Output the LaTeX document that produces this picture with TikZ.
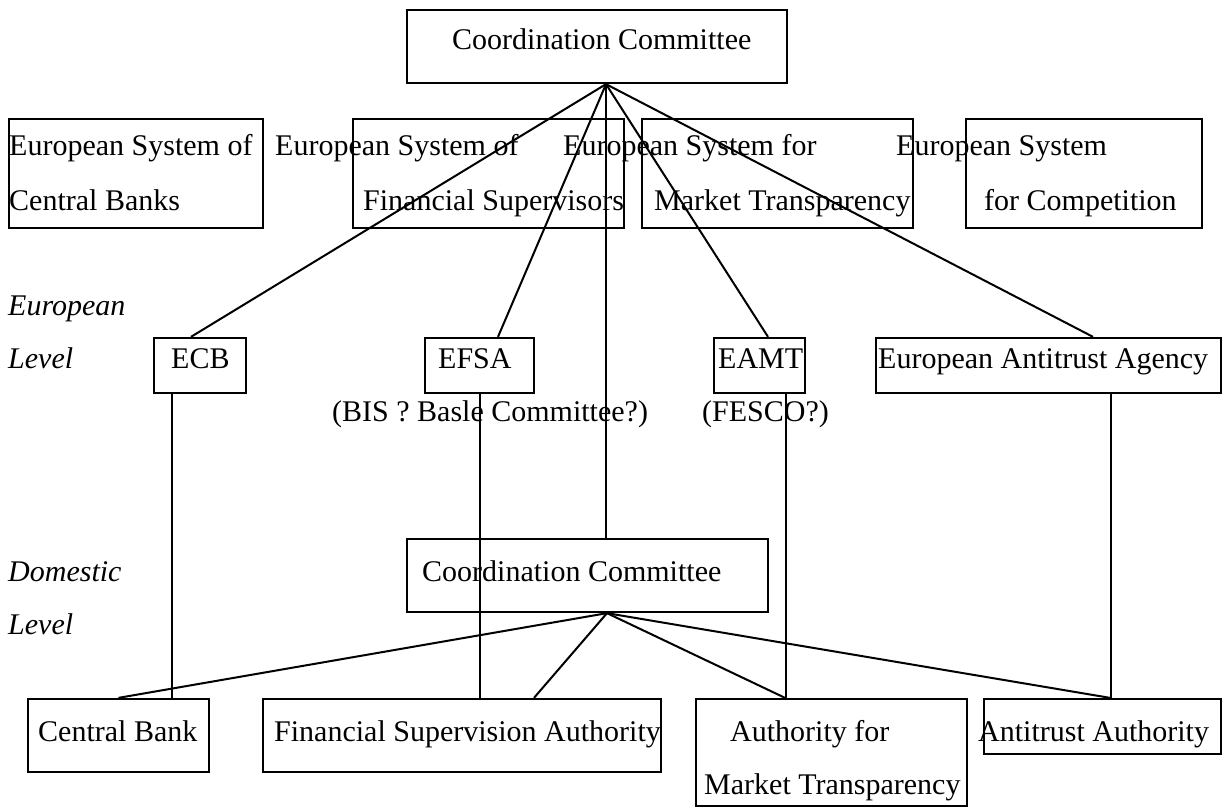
\documentclass[tikz,border=0pt]{standalone}
\usepackage{fontspec}
\setmainfont{Liberation Serif}

\begin{document}
\begin{tikzpicture}[x=1pt, y=-1pt, font=\fontsize{30}{36}\selectfont,
  box/.style args={#1x#2}{draw, line width=2.3pt, inner sep=0pt,
    minimum width=#1pt, minimum height=#2pt},
  txt/.style={anchor=base west, inner sep=0pt},
  lvl/.style={txt, font=\fontsize{30}{36}\selectfont\itshape},
  link/.style={line width=2pt},
]

\useasboundingbox (0,0) rectangle (1225,808);

% top committee
\node[box=380x73] (cctop) at (597,46.5) {};
\node[txt] (cctoptxt) at (452,50) {Coordination Committee};

% european systems
\node[box=254x109] (escb) at (136,173.5) {};
\node[box=271x109] (esfs) at (488.5,173.5) {};
\node[box=271x109] (esmt) at (777.5,173.5) {};
\node[box=236x109] (esc) at (1084,173.5) {};
\node[txt] (escba) at (9,155) {European System of};
\node[txt] (escbb) at (9,210) {Central Banks};
\node[txt] (esfsa) at (275,155) {European System of};
\node[txt] (esfsb) at (363,210) {Financial Supervisors};
\node[txt] (esmta) at (563,155) {European System for};
\node[txt] (esmtb) at (654,210) {Market Transparency};
\node[txt] (esca) at (896,155) {European System};
\node[txt] (escb2) at (984,210) {for Competition};

% european level
\node[lvl] (eurlvla) at (8,315) {European};
\node[lvl] (eurlvlb) at (8,368) {Level};
\node[box=92x55] (ecb) at (200,365.5) {};
\node[box=109x55] (efsa) at (479.5,365.5) {};
\node[box=91x55] (eamt) at (759.5,365.5) {};
\node[box=345x55] (eaa) at (1048.5,365.5) {};
\node[txt] (ecbtxt) at (171,368) {ECB};
\node[txt] (efsatxt) at (438,368) {EFSA};
\node[txt] (eamttxt) at (718,368) {EAMT};
\node[txt] (eaatxt) at (878,368) {European Antitrust Agency};
\node[txt] (bis) at (332,421) {(BIS ? Basle Committee?)};
\node[txt] (fesco) at (702,421) {(FESCO?)};

% domestic level
\node[lvl] (domlvla) at (8,581) {Domestic};
\node[lvl] (domlvlb) at (8,634) {Level};
\node[box=361x73] (ccdom) at (587.5,575.5) {};
\node[txt] (ccdomtxt) at (422,581) {Coordination Committee};

% authorities
\node[box=181x73] (cb) at (118.5,735.5) {};
\node[box=398x73] (fsa) at (462,735.5) {};
\node[box=271x107] (amt) at (831.5,752.5) {};
\node[box=237x55] (aa) at (1102.5,726.5) {};
\node[txt] (cbtxt) at (38,741) {Central Bank};
\node[txt] (fsatxt) at (274,741) {Financial Supervision Authority};
\node[txt] (amta) at (730,741) {Authority for};
\node[txt] (amtb) at (704,794) {Market Transparency};
\node[txt] (aatxt) at (978,741) {Antitrust Authority};

% links from the top committee
\coordinate (hub) at ([xshift=9pt]cctop.south);
\draw[link] (hub) -- ([xshift=-9pt]ecb.north);
\draw[link] (hub) -- ([xshift=18.5pt]efsa.north);
\draw[link] (hub) -- (hub |- ccdom.north);
\draw[link] (hub) -- ([xshift=8.5pt]eamt.north);
\draw[link] (hub) -- ([xshift=44.5pt]eaa.north);

% european bodies down to domestic ones
\coordinate (ecbout) at ([xshift=-28pt]ecb.south);
\coordinate (efsaout) at (efsa.south);
\coordinate (eamtout) at ([xshift=26.5pt]eamt.south);
\coordinate (eaaout) at ([xshift=62.5pt]eaa.south);
\draw[link] (ecbout) -- (ecbout |- cb.north);
\draw[link] (efsaout) -- (efsaout |- fsa.north);
\draw[link] (eamtout) -- (eamtout |- amt.north);
\draw[link] (eaaout) -- (eaaout |- aa.north);

% links from the domestic committee
\coordinate (dhub) at ([xshift=19.5pt]ccdom.south);
\draw[link] (dhub) -- (cb.north);
\draw[link] (dhub) -- ([xshift=72pt]fsa.north);
\draw[link] (dhub) -- ([xshift=-46.5pt]amt.north);
\draw[link] (dhub) -- ([xshift=7.5pt]aa.north);

\end{tikzpicture}
\end{document}
